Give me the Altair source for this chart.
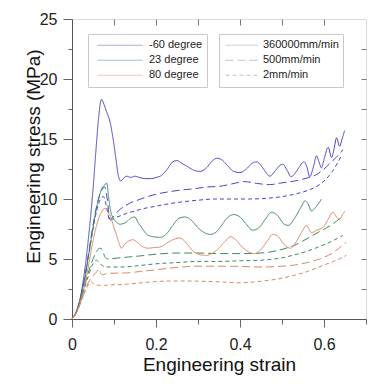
import altair as alt
import pandas as pd

temps = ["-60 degree", "23 degree", "80 degree"]
rates = ["360000mm/min", "500mm/min", "2mm/min"]
temp_colors = ["#4646c8", "#3d8a60", "#d98a64"]
rate_dashes = [[1, 0], [8, 4], [4, 3]]

# -60 degree
b360_x = [0, 0.01, 0.02, 0.03, 0.04, 0.05, 0.058, 0.064, 0.07, 0.076, 0.083, 0.09, 0.097, 0.104, 0.11, 0.116,
          0.122, 0.13, 0.14, 0.15, 0.16, 0.175, 0.19, 0.2, 0.21, 0.225, 0.24, 0.25, 0.26, 0.275, 0.29, 0.305,
          0.32, 0.335, 0.345, 0.355, 0.37, 0.385, 0.4, 0.415, 0.43, 0.44, 0.45, 0.46, 0.471, 0.485, 0.495,
          0.502, 0.512, 0.522, 0.53, 0.54, 0.552, 0.56, 0.566, 0.575, 0.582, 0.588, 0.594, 0.6, 0.61, 0.618,
          0.624, 0.63, 0.637, 0.643, 0.649]
b360_y = [0, 0.6, 1.8, 4.0, 7.0, 10.8, 14.5, 17.0, 18.3, 17.9, 17.2, 16.5, 15.2, 13.5, 12.0, 11.5,
          11.7, 11.9, 11.8, 11.9, 11.8, 11.7, 11.7, 11.8, 11.9, 12.4, 13.1, 13.2, 13.0, 12.7, 12.4, 12.3,
          12.6, 13.2, 13.4, 13.3, 12.8, 12.3, 12.2, 12.5, 13.0, 13.1, 12.8, 12.3, 11.9, 12.4, 12.8,
          12.9, 12.4, 11.85, 12.1, 12.6, 13.1, 12.6, 11.85, 12.7, 13.6, 13.1, 12.6, 13.3, 14.3, 13.45,
          14.2, 15.1, 14.4, 15.0, 15.7]
b500_x = [0, 0.01, 0.02, 0.03, 0.04, 0.05, 0.06, 0.07, 0.078, 0.084, 0.09, 0.1, 0.11, 0.125, 0.14, 0.16, 0.18,
          0.2, 0.23, 0.26, 0.29, 0.32, 0.35, 0.38, 0.41, 0.44, 0.47, 0.5, 0.53, 0.56, 0.58, 0.6, 0.615, 0.63, 0.645]
b500_y = [0, 0.6, 1.7, 3.4, 5.6, 7.8, 9.6, 10.7, 11.0, 10.0, 8.3, 8.6, 9.0, 9.4, 9.7, 9.95, 10.2,
          10.4, 10.6, 10.75, 10.85, 11.0, 11.05, 11.25, 11.45, 11.3, 11.2, 11.35, 11.5, 11.75, 12.0, 12.5, 13.0, 13.5, 14.1]
b2_x = [0, 0.01, 0.02, 0.03, 0.04, 0.05, 0.06, 0.068, 0.075, 0.082, 0.09, 0.1, 0.115, 0.13, 0.15, 0.17, 0.2,
        0.23, 0.26, 0.3, 0.34, 0.38, 0.42, 0.46, 0.5, 0.53, 0.56, 0.58, 0.6, 0.62, 0.64]
b2_y = [0, 0.6, 1.7, 3.3, 5.4, 7.5, 9.2, 10.0, 10.2, 9.4, 8.2, 8.4, 8.6, 8.8, 9.0, 9.2, 9.4,
        9.6, 9.75, 9.9, 10.0, 10.0, 10.0, 10.05, 10.2, 10.4, 10.7, 11.0, 11.5, 12.3, 13.5]

# 23 degree
g360_x = [0, 0.01, 0.02, 0.03, 0.04, 0.05, 0.06, 0.07, 0.078, 0.083, 0.087, 0.092, 0.098, 0.105, 0.114, 0.122,
          0.13, 0.14, 0.149, 0.158, 0.168, 0.18, 0.195, 0.21, 0.225, 0.24, 0.255, 0.27, 0.285, 0.3, 0.315, 0.33,
          0.345, 0.36, 0.372, 0.385, 0.4, 0.415, 0.43, 0.445, 0.46, 0.475, 0.49, 0.505, 0.515, 0.53, 0.545,
          0.555, 0.562, 0.57, 0.58, 0.594]
g360_y = [0, 0.6, 1.7, 3.3, 5.4, 7.6, 9.5, 10.8, 11.2, 11.3, 10.2, 9.0, 8.4, 8.1, 7.9, 7.95,
          8.1, 8.4, 8.5, 8.0, 7.5, 7.0, 6.85, 6.8, 7.1, 7.8, 8.4, 8.5, 8.2, 7.6, 7.2, 7.05,
          7.3, 8.0, 8.5, 8.7, 8.5, 7.9, 7.4, 7.6, 8.3, 8.9, 8.6, 7.9, 7.8, 8.4, 9.3,
          9.85, 9.6, 9.0, 9.3, 10.0]
g500_x = [0, 0.01, 0.02, 0.03, 0.04, 0.05, 0.058, 0.066, 0.072, 0.078, 0.085, 0.1, 0.13, 0.16, 0.2, 0.25, 0.3,
          0.35, 0.4, 0.45, 0.5, 0.53, 0.56, 0.59, 0.62, 0.645]
g500_y = [0, 0.5, 1.5, 2.8, 4.0, 5.0, 5.6, 5.9, 5.8, 5.2, 5.0, 5.05, 5.15, 5.25, 5.4, 5.5, 5.5,
          5.45, 5.45, 5.5, 5.8, 6.15, 6.7, 7.3, 7.9, 8.6]
g2_x = [0, 0.01, 0.02, 0.03, 0.04, 0.05, 0.058, 0.065, 0.072, 0.08, 0.09, 0.11, 0.13, 0.16, 0.2, 0.25, 0.3,
        0.35, 0.4, 0.45, 0.5, 0.53, 0.56, 0.59, 0.62, 0.645]
g2_y = [0, 0.5, 1.4, 2.6, 3.7, 4.6, 4.9, 4.7, 4.45, 4.35, 4.33, 4.33, 4.35, 4.45, 4.6, 4.7, 4.8,
        4.8, 4.85, 4.9, 5.1, 5.35, 5.65, 6.05, 6.5, 6.96]

# 80 degree
o360_x = [0, 0.01, 0.02, 0.03, 0.04, 0.05, 0.06, 0.07, 0.077, 0.082, 0.088, 0.094, 0.1, 0.106, 0.112, 0.118,
          0.125, 0.135, 0.145, 0.155, 0.165, 0.18, 0.195, 0.21, 0.225, 0.24, 0.255, 0.265, 0.275, 0.29, 0.305,
          0.32, 0.335, 0.35, 0.365, 0.378, 0.39, 0.405, 0.42, 0.435, 0.45, 0.465, 0.478, 0.49, 0.505, 0.52,
          0.535, 0.548, 0.558, 0.57, 0.583, 0.598, 0.61, 0.621, 0.63, 0.637, 0.644, 0.65]
o360_y = [0, 0.5, 1.4, 2.8, 4.6, 6.5, 8.0, 8.9, 9.2, 9.15, 8.8, 8.3, 7.6, 7.0, 6.3, 5.9,
          6.2, 6.5, 6.6, 6.4, 6.1, 5.9, 5.95, 6.0, 6.3, 6.6, 6.75, 6.6, 6.2, 5.6, 5.35,
          5.3, 5.5, 5.9, 6.5, 6.85, 6.6, 6.0, 5.6, 5.45, 5.8, 6.5, 7.05, 6.9, 6.2, 5.9,
          6.5, 7.3, 7.8, 7.2, 7.4, 7.65, 8.3, 8.9, 8.5, 8.3, 8.7, 9.0]
o500_x = [0, 0.01, 0.02, 0.03, 0.04, 0.05, 0.058, 0.064, 0.07, 0.076, 0.082, 0.1, 0.13, 0.16, 0.2, 0.25, 0.3,
          0.35, 0.4, 0.45, 0.5, 0.53, 0.56, 0.59, 0.62, 0.653]
o500_y = [0, 0.5, 1.3, 2.3, 3.1, 3.6, 3.9, 4.15, 3.75, 3.7, 3.8, 3.82, 3.84, 3.95, 4.1, 4.3, 4.4,
          4.4, 4.38, 4.33, 4.4, 4.5, 4.7, 5.0, 5.5, 6.4]
o2_x = [0, 0.01, 0.02, 0.03, 0.04, 0.046, 0.054, 0.07, 0.1, 0.13, 0.16, 0.2, 0.25, 0.3, 0.35, 0.4, 0.45,
        0.5, 0.53, 0.56, 0.6, 0.63, 0.653]
o2_y = [0, 0.5, 1.3, 2.2, 2.9, 3.1, 2.85, 2.8, 2.85, 2.9, 3.0, 3.12, 3.17, 3.15, 3.1, 3.02, 3.15,
        3.4, 3.65, 3.95, 4.5, 4.9, 5.3]

x_ticks = [0, 0.1, 0.2, 0.3, 0.4, 0.5, 0.6, 0.7]
y_ticks = [0, 2.5, 5, 7.5, 10, 12.5, 15, 17.5, 20, 22.5, 25]

series = [
    (temps[0], rates[0], b360_x, b360_y), (temps[0], rates[1], b500_x, b500_y), (temps[0], rates[2], b2_x, b2_y),
    (temps[1], rates[0], g360_x, g360_y), (temps[1], rates[1], g500_x, g500_y), (temps[1], rates[2], g2_x, g2_y),
    (temps[2], rates[0], o360_x, o360_y), (temps[2], rates[1], o500_x, o500_y), (temps[2], rates[2], o2_x, o2_y),
]
rows = []
for t, r, xs, ys in series:
    for i, (xv, yv) in enumerate(zip(xs, ys)):
        rows.append({"temp": t, "rate": r, "sid": t + r, "i": i, "strain": xv, "stress": yv})
df = pd.DataFrame(rows)

FONT = "Liberation Sans"
xdom = [0, 0.7]
ydom = [0, 25]

lines = alt.Chart(df).mark_line(strokeWidth=1, clip=False, interpolate="monotone").encode(
    x=alt.X("strain:Q", scale=alt.Scale(domain=xdom, nice=False, zero=False),
            axis=alt.Axis(values=x_ticks, title="Engineering strain", grid=False,
                          tickSize={"condition": {"test": "round(datum.value*10) % 2 == 0", "value": 8}, "value": 5},
                          labelExpr="round(datum.value*10) % 2 == 0 ? (datum.value == 0 ? '0' : format(datum.value, '.1f')) : ''",
                          labelBaseline="alphabetic", labelPadding=22, labelFontSize=16,
                          titleFontSize=19, titleFontWeight="normal", titleY=51.5, titleBaseline="alphabetic",
                          domainColor="#555", tickColor="#666", labelColor="#222", titleColor="#111",
                          labelFlush=False)),
    y=alt.Y("stress:Q", scale=alt.Scale(domain=ydom, nice=False),
            axis=alt.Axis(values=y_ticks, title="Engineering stress (MPa)", grid=False,
                          tickSize={"condition": {"test": "datum.value % 5 == 0", "value": 9}, "value": 4},
                          labelExpr="datum.value % 5 == 0 ? format(datum.value, 'd') : ''",
                          labelBaseline="middle", labelPadding=6, labelFontSize=16,
                          titleFontSize=19, titleFontWeight="normal", titleX=-33, titleY=137,
                          titleBaseline="alphabetic", titleAngle=270,
                          domainColor="#555", tickColor="#666", labelColor="#222", titleColor="#111",
                          labelFlush=False)),
    color=alt.Color("temp:N", scale=alt.Scale(domain=temps, range=temp_colors),
                    legend=alt.Legend(title=None, orient="none", legendX=16, legendY=15,
                                      symbolType="stroke", symbolSize=2025, symbolStrokeWidth=1,
                                      symbolOpacity=0.45, clipHeight=14.5, rowPadding=0, padding=4,
                                      symbolOffset=5, labelOffset=6, labelFontSize=11, labelColor="#222",
                                      strokeColor="#c8c8c8", fillColor="white")),
    strokeDash=alt.StrokeDash("rate:N", scale=alt.Scale(domain=rates, range=rate_dashes),
                              legend=alt.Legend(title=None, orient="none", legendX=147, legendY=15,
                                                symbolType="stroke", symbolSize=1024, symbolStrokeWidth=1,
                                                symbolStrokeColor="#c4c4c4", clipHeight=14.5, rowPadding=0,
                                                padding=4, symbolOffset=2, labelOffset=5, labelFontSize=11,
                                                labelColor="#222", strokeColor="#c8c8c8", fillColor="white")),
    detail="sid:N",
    order="i:Q",
)

frame = alt.Chart(df).mark_point(opacity=0).encode(
    x=alt.X("strain:Q", scale=alt.Scale(domain=xdom, nice=False, zero=False),
            axis=alt.Axis(orient="top", values=x_ticks[1:-1], labels=False, domain=False, title=None,
                          grid=False, tickSize=6, offset=-6, tickColor="#777")),
    y=alt.Y("stress:Q", scale=alt.Scale(domain=ydom, nice=False),
            axis=alt.Axis(orient="right", values=y_ticks[1:-1], labels=False, domain=False, title=None,
                          grid=False, tickSize=5, offset=-5, tickColor="#777")),
)

chart = alt.layer(lines, frame).resolve_scale(x="independent", y="independent").properties(
    width=294, height=300,
    autosize=alt.AutoSizeParams(type="none"),
    padding={"left": 64, "top": 11, "right": 10, "bottom": 57},
).configure_view(stroke="#888", strokeWidth=1).configure(font=FONT)

chart.save("out.html", embed_options={"renderer": "svg", "actions": False})
